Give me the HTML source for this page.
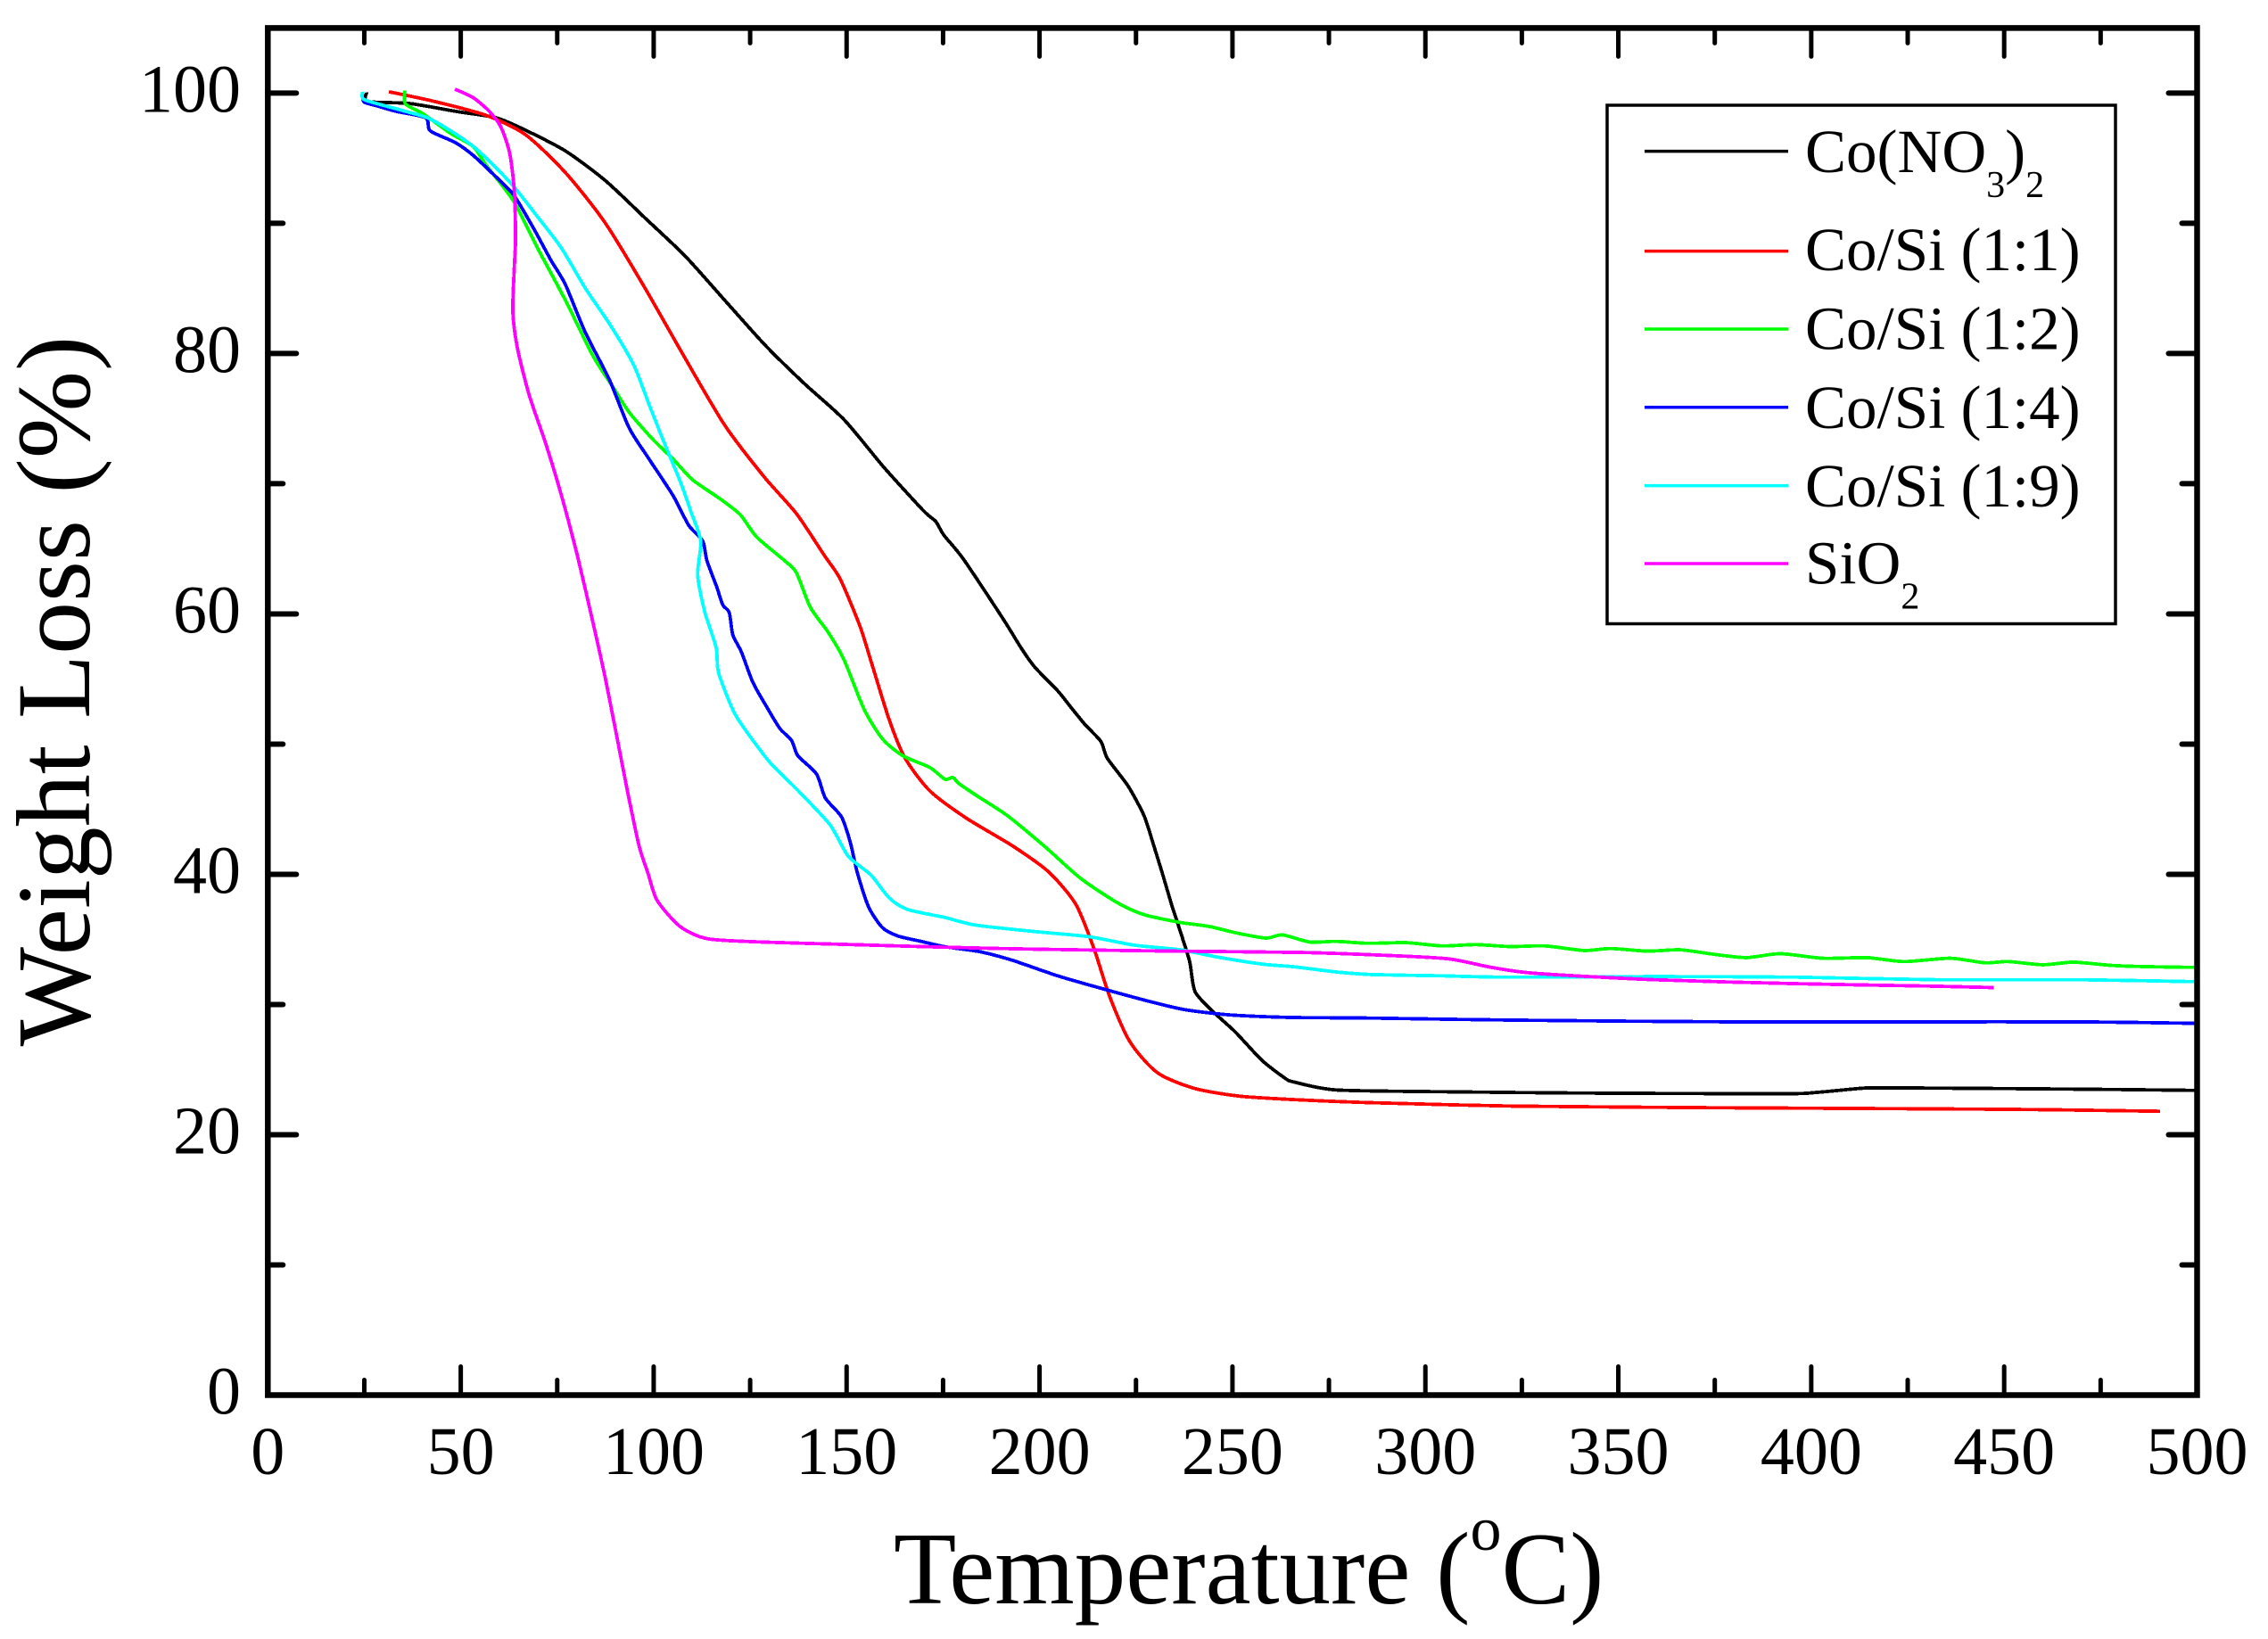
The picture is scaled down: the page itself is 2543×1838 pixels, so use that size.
<!DOCTYPE html>
<html lang="en">
<head>
<meta charset="utf-8">
<title>Weight Loss vs Temperature</title>
<style>
html,body{margin:0;padding:0;background:#fff;}
svg{display:block;}
text{font-family:"Liberation Serif","Times New Roman",serif;fill:#000;}
</style>
</head>
<body>
<svg id="chart" xmlns="http://www.w3.org/2000/svg" width="2543" height="1838" viewBox="0 0 2543 1838">
  <rect x="0" y="0" width="2543" height="1838" fill="#fff"/>
  <g id="series"></g>
  <g id="axes"></g>
  <text transform="translate(100,775) rotate(-90)" text-anchor="middle" font-size="118">Weight Loss (%)</text>
  <text x="1002" y="1798" font-size="115">Temperature (<tspan font-size="70" dy="-60">o</tspan><tspan dy="60">C)</tspan></text>
  <g>
    <rect x="1802" y="118" width="570" height="581.5" fill="#fff" stroke="#000" stroke-width="3.5"/>
    <g>
      <line x1="1844" x2="2005" y1="169.6" y2="169.6" stroke="#000" stroke-width="3.5"/>
      <text x="2024" y="193" font-size="69">Co(NO<tspan font-size="42" dy="28">3</tspan><tspan dy="-28">)</tspan><tspan font-size="42" dy="28">2</tspan></text>
    </g>
    <g>
      <line x1="1844" x2="2005" y1="281.6" y2="281.6" stroke="#f00" stroke-width="3.5"/>
      <text x="2024" y="303" font-size="69">Co/Si (1:1)</text>
    </g>
    <g>
      <line x1="1844" x2="2005" y1="369" y2="369" stroke="#0f0" stroke-width="3.5"/>
      <text x="2024" y="391.5" font-size="69">Co/Si (1:2)</text>
    </g>
    <g>
      <line x1="1844" x2="2005" y1="456.7" y2="456.7" stroke="#00f" stroke-width="3.5"/>
      <text x="2024" y="480" font-size="69">Co/Si (1:4)</text>
    </g>
    <g>
      <line x1="1844" x2="2005" y1="544.6" y2="544.6" stroke="#0ff" stroke-width="3.5"/>
      <text x="2024" y="568" font-size="69">Co/Si (1:9)</text>
    </g>
    <g>
      <line x1="1844" x2="2005" y1="632" y2="632" stroke="#f0f" stroke-width="3.5"/>
      <text x="2024" y="654.5" font-size="69">SiO<tspan font-size="42" dy="28">2</tspan></text>
    </g>
  </g>
</svg>
<script>
const xTickLabels = [0, 50, 100, 150, 200, 250, 300, 350, 400, 450, 500];
const xMinorTicks = [25, 75, 125, 175, 225, 275, 325, 375, 425, 475];
const yTickLabels = [0, 20, 40, 60, 80, 100];
const yMinorTicks = [10, 30, 50, 70, 90];

const blackTemps = [25.6,25.9,36.8,48.6,59.2,66.8,77.1,87.4,97.8,108.1,118.4,128.7,139,149.4,159.7,170,173.1,175.2,180.3,190.6,195.2,198.8,204.7,208.2,211.8,215.9,217.6,222.9,227.1,229.4,231.8,234.2,236.5,238.9,240.3,244.8,250.7,257.7,263.6,265.9,276.9,304.4,341,392.4,401.5,412.5,419.9,469.3,500];
const blackWeights = [100.05,99.35,99.2,98.6,98.1,97.15,95.56,93.3,90.4,87.5,84.1,80.7,77.7,74.9,71.25,67.9,67.1,66.05,64.2,59.6,57.4,55.9,54.1,52.8,51.5,50.2,48.9,46.8,44.5,42.4,40.1,37.7,35.6,33.3,31,29.5,27.9,25.7,24.35,24.05,23.44,23.3,23.2,23.14,23.25,23.55,23.6,23.5,23.4];

const redTemps = [31.4,42.6,56.5,66.8,77.1,87.4,97.8,108.1,118.4,128.7,137,144.2,148.3,153.4,156.4,161,165.2,171.6,181.1,192.9,202.3,209.4,214.1,218.2,223.5,230.6,240.1,251.9,265.8,286.1,322.7,377.7,451,490.4];
const redWeights = [100.1,99.4,98.3,96.8,93.9,90.05,85,79.66,74.5,70.5,67.7,64.5,62.7,59.1,56.3,51.9,48.9,46.4,44.3,42.2,40.2,37.7,34.3,30.6,27.1,24.75,23.56,22.96,22.7,22.46,22.2,22.07,21.95,21.8];

const greenTemps = [35.5,35.7,40.3,47.4,53.2,56.5,63.7,69.9,77.1,84.3,89.5,93.6,99.8,105,110.1,117.4,122.5,126.7,133.9,137,140.6,145.2,149.3,154.5,159.3,164.6,171.6,175.5,177.5,179,183.4,191.7,201.1,210.6,220,227.1,236.5,243.9,251,258.6,263,270,276.9,285,295,304.4,313,322,331,341.1,348,357.5,366,375,383.2,392,403,414.4,424,436,445,451,460,468,478,488,500];
const greenWeights = [100.2,99.16,98.4,96.9,95.9,94.5,91.7,88.1,84.1,79.8,77.4,75.5,73.4,71.9,70.3,68.8,67.6,65.9,64.1,63.15,60.5,58.6,56.5,52.7,50.4,49.1,48.2,47.3,47.45,47,46.1,44.5,42.2,39.7,37.85,36.9,36.3,36,35.5,35.1,35.35,34.8,34.85,34.7,34.75,34.5,34.6,34.45,34.5,34.15,34.3,34.1,34.2,33.85,33.6,33.9,33.55,33.6,33.3,33.55,33.2,33.3,33.05,33.25,33,32.9,32.85];

const blueTemps = [24.6,25,28.5,33.2,40.9,42.1,48.6,53.3,60.4,63.9,68.9,73.3,77.1,82.3,88.5,93.6,98.8,105,109.1,112.7,113.8,116.3,117.9,119.6,120.5,122.7,125.7,129.2,132.7,135.7,137.4,142.2,144.5,148.7,151,152.8,155.7,159.3,163.4,169.3,175.2,184.6,192.9,204.7,216.5,228.3,237.7,249.5,265.8,286.1,322.7,377.7,432.7,469.3,500];
const blueWeights = [99.7,99.3,99,98.6,98.1,97.1,96.2,95.2,93.2,92.1,89.6,87.2,85.3,81.6,78,74.3,71.9,69.1,66.8,65.6,64.1,62.1,60.7,60.1,58.4,57.1,54.75,52.9,51.2,50.3,49.1,47.7,45.85,44.4,42.4,40.1,37.5,35.9,35.25,34.85,34.45,34.05,33.4,32.2,31.2,30.25,29.6,29.2,29,28.96,28.8,28.67,28.67,28.67,28.55];

const cyanTemps = [24.6,25,33.2,41.4,47.4,53.3,58,63.8,69.9,76.1,82.3,88.5,94.7,98.8,102.4,107.1,109.6,112.2,111.4,113.2,116.2,116.8,120.9,125.7,130.4,137.5,145.7,150.4,156.3,161,165.8,175.2,183.4,198.8,212.9,224.7,236.5,246,257.7,265.8,276.9,286.1,304.4,320.9,359.4,396,432.7,469.3,500];
const cyanWeights = [100.1,99.5,98.8,98.1,97.1,95.9,94.6,92.8,90.5,88.1,85,82.3,79.2,76.1,73.4,70,67.9,65.6,63,60.2,57.4,55.5,52.4,50.3,48.5,46.4,43.8,41.4,39.95,38.2,37.3,36.7,36.1,35.6,35.2,34.55,34.2,33.65,33.1,32.9,32.5,32.3,32.2,32.1,32.15,32.1,31.9,31.9,31.75];

const magentaTemps = [48.5,53.2,57.4,60.4,62.7,63.9,64.2,63.9,63.5,64.7,67.8,72,76.1,80.2,84.3,87.3,90.3,93.2,96.2,98.5,100.9,106.8,113.9,128,151.6,175.2,198.8,234.2,267.8,291.6,306.2,317.2,328.2,359.4,396,432.7,447.3];
const magentaWeights = [100.3,99.65,98.6,97.4,95.35,92.4,88.8,86.8,83.2,80.4,76.75,73.1,69.1,64.5,59.3,55.3,50.8,46.4,42.2,40.1,38,36,35.05,34.8,34.6,34.4,34.25,34.1,34,33.75,33.5,32.85,32.4,31.9,31.6,31.4,31.3];

const X_LEFT = 300.3, X_RIGHT = 2463.5, Y_BOTTOM = 1564.5, Y_TOP = 31.4;
const X_MAX = 500, Y_MAX = 105;
function xScale(v) { return X_LEFT + (X_RIGHT - X_LEFT) * v / X_MAX; }
function yScale(v) { return Y_BOTTOM - (Y_BOTTOM - Y_TOP) * v / Y_MAX; }

const NS = 'http://www.w3.org/2000/svg';
const axesGroup = document.getElementById('axes');
const seriesGroup = document.getElementById('series');

function drawTick(x1, y1, x2, y2, width, name) {
  const t = document.createElementNS(NS, 'line');
  t.setAttribute('x1', x1);
  t.setAttribute('y1', y1);
  t.setAttribute('x2', x2);
  t.setAttribute('y2', y2);
  t.setAttribute('stroke', '#000');
  t.setAttribute('stroke-width', width);
  t.setAttribute('stroke-linecap', 'round');
  
  
  axesGroup.appendChild(t);
}

const MAJOR = 32, MINOR = 17;
xTickLabels.forEach(function (v) {
  const x = xScale(v);
  drawTick(x, Y_BOTTOM, x, Y_BOTTOM - MAJOR, 5, 'x-major-tick-' + v);
  drawTick(x, Y_TOP, x, Y_TOP + MAJOR, 5, 'x-top-major-tick-' + v);
  const label = document.createElementNS(NS, 'text');
  label.setAttribute('x', x);
  label.setAttribute('y', 1653);
  label.setAttribute('text-anchor', 'middle');
  label.setAttribute('font-size', 76);
  
  
  label.textContent = v;
  axesGroup.appendChild(label);
});
xMinorTicks.forEach(function (v) {
  const x = xScale(v);
  drawTick(x, Y_BOTTOM, x, Y_BOTTOM - MINOR, 5, 'x-minor-tick-' + v);
  drawTick(x, Y_TOP, x, Y_TOP + MINOR, 5, 'x-top-minor-tick-' + v);
});
yTickLabels.forEach(function (v) {
  const y = yScale(v);
  drawTick(X_LEFT, y, X_LEFT + MAJOR, y, 6, 'y-major-tick-' + v);
  drawTick(X_RIGHT, y, X_RIGHT - MAJOR, y, 6, 'y-right-major-tick-' + v);
  const label = document.createElementNS(NS, 'text');
  label.setAttribute('x', 270);
  label.setAttribute('y', y + 21);
  label.setAttribute('text-anchor', 'end');
  label.setAttribute('font-size', 76);
  
  
  label.textContent = v;
  axesGroup.appendChild(label);
});
yMinorTicks.forEach(function (v) {
  const y = yScale(v);
  drawTick(X_LEFT, y, X_LEFT + MINOR, y, 6, 'y-minor-tick-' + v);
  drawTick(X_RIGHT, y, X_RIGHT - MINOR, y, 6, 'y-right-minor-tick-' + v);
});

const frame = document.createElementNS(NS, 'rect');
frame.setAttribute('x', X_LEFT);
frame.setAttribute('y', Y_TOP);
frame.setAttribute('width', X_RIGHT - X_LEFT);
frame.setAttribute('height', Y_BOTTOM - Y_TOP);
frame.setAttribute('fill', 'none');
frame.setAttribute('stroke', '#000');
frame.setAttribute('stroke-width', 6.5);


axesGroup.appendChild(frame);

function drawSeries(temps, weights, color, name) {
  const px = temps.map(xScale);
  const py = weights.map(yScale);
  let d = 'M' + px[0].toFixed(1) + ' ' + py[0].toFixed(1);
  for (let i = 0; i < px.length - 1; i++) {
    const a = Math.max(i - 1, 0);
    const b = Math.min(i + 2, px.length - 1);
    const c1x = px[i] + (px[i + 1] - px[a]) / 8;
    const c1y = py[i] + (py[i + 1] - py[a]) / 8;
    const c2x = px[i + 1] - (px[b] - px[i]) / 8;
    const c2y = py[i + 1] - (py[b] - py[i]) / 8;
    d += ' C' + c1x.toFixed(1) + ' ' + c1y.toFixed(1) + ' ' + c2x.toFixed(1) + ' ' + c2y.toFixed(1) + ' ' + px[i + 1].toFixed(1) + ' ' + py[i + 1].toFixed(1);
  }
  const p = document.createElementNS(NS, 'path');
  p.setAttribute('d', d);
  p.setAttribute('fill', 'none');
  p.setAttribute('stroke', color);
  p.setAttribute('stroke-width', 3.8);
  p.setAttribute('stroke-linejoin', 'round');
  p.setAttribute('shape-rendering', 'crispEdges');
  
  
  seriesGroup.appendChild(p);
}

drawSeries(blackTemps, blackWeights, '#000000', 'series-co-no3');
drawSeries(redTemps, redWeights, '#ff0000', 'series-co-si-1-1');
drawSeries(greenTemps, greenWeights, '#00ff00', 'series-co-si-1-2');
drawSeries(blueTemps, blueWeights, '#0000ff', 'series-co-si-1-4');
drawSeries(cyanTemps, cyanWeights, '#00ffff', 'series-co-si-1-9');
drawSeries(magentaTemps, magentaWeights, '#ff00ff', 'series-sio2');
</script>
</body>
</html>
